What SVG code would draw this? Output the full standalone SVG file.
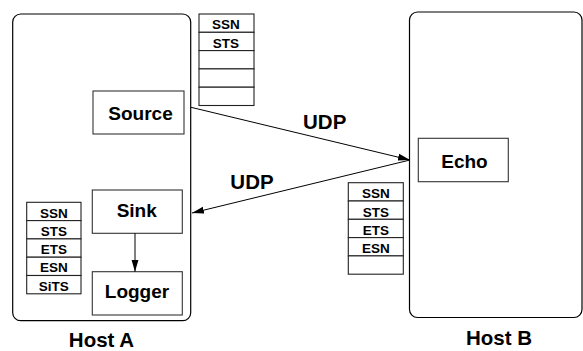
<svg xmlns="http://www.w3.org/2000/svg" width="583" height="351" viewBox="0 0 583 351">
<defs>
<style>
.host{fill:none;stroke:#000;stroke-width:1.2}
.box{fill:#fff;stroke:#333;stroke-width:1.1}
.cell{fill:#fff;stroke:#222;stroke-width:1.1}
.lbl{font-family:"Liberation Sans",Arial,sans-serif;font-weight:bold;font-size:19px;text-anchor:middle;fill:#000}
.big{font-family:"Liberation Sans",Arial,sans-serif;font-weight:bold;font-size:20.5px;text-anchor:middle;fill:#000}
.sm{font-family:"Liberation Sans",Arial,sans-serif;font-weight:bold;font-size:13.5px;text-anchor:middle;fill:#000}
.conn{fill:none;stroke:#000;stroke-width:1}
</style>
<marker id="ah" viewBox="0 0 12 8" refX="12" refY="4" markerWidth="12" markerHeight="8" markerUnits="userSpaceOnUse" orient="auto">
<path d="M0,0.5 L12,4 L0,7.5 z" fill="#000"/>
</marker>
</defs>
<g id="hostA">
<rect class="host" x="12.7" y="14" width="178" height="306.7" rx="8"/>
<text class="big" x="101.5" y="347">Host A</text>
</g>
<g id="hostB">
<rect class="host" x="409.5" y="12" width="172.5" height="305.5" rx="8"/>
<text class="big" x="499" y="345">Host B</text>
</g>
<g id="source">
<rect class="box" x="93" y="91" width="91" height="43"/>
<text class="lbl" x="140.5" y="120">Source</text>
</g>
<g id="echo">
<rect class="box" x="418.3" y="138.3" width="90" height="43.4"/>
<text class="lbl" x="464.5" y="168">Echo</text>
</g>
<g id="sink">
<rect class="box" x="92.3" y="190" width="90" height="43.3"/>
<text class="lbl" x="136.7" y="217.3">Sink</text>
</g>
<g id="logger">
<rect class="box" x="92.3" y="271.7" width="90" height="43.3"/>
<text class="lbl" x="137" y="298">Logger</text>
</g>
<g id="stackTop">
<rect class="cell" x="199" y="14" width="55" height="18.3"/>
<rect class="cell" x="199" y="32.3" width="55" height="18.3"/>
<rect class="cell" x="199" y="50.6" width="55" height="18.3"/>
<rect class="cell" x="199" y="68.9" width="55" height="18.3"/>
<rect class="cell" x="199" y="87.2" width="55" height="18.3"/>
<text class="sm" x="226" y="29">SSN</text>
<text class="sm" x="226" y="47.5">STS</text>
</g>
<g id="stackLeft">
<rect class="cell" x="26.7" y="202.3" width="54.3" height="18.3"/>
<rect class="cell" x="26.7" y="220.6" width="54.3" height="18.3"/>
<rect class="cell" x="26.7" y="238.9" width="54.3" height="18.3"/>
<rect class="cell" x="26.7" y="257.2" width="54.3" height="18.3"/>
<rect class="cell" x="26.7" y="275.5" width="54.3" height="18.3"/>
<text class="sm" x="53.8" y="217.5">SSN</text>
<text class="sm" x="53.8" y="235.8">STS</text>
<text class="sm" x="53.8" y="254">ETS</text>
<text class="sm" x="53.8" y="272.4">ESN</text>
<text class="sm" x="53.8" y="290.7">SiTS</text>
</g>
<g id="stackRight">
<rect class="cell" x="348.3" y="182.7" width="55" height="18.3"/>
<rect class="cell" x="348.3" y="201" width="55" height="18.3"/>
<rect class="cell" x="348.3" y="219.3" width="55" height="18.3"/>
<rect class="cell" x="348.3" y="237.6" width="55" height="18.3"/>
<rect class="cell" x="348.3" y="255.9" width="55" height="18.3"/>
<text class="sm" x="375.8" y="198.2">SSN</text>
<text class="sm" x="375.8" y="216.5">STS</text>
<text class="sm" x="375.8" y="234.8">ETS</text>
<text class="sm" x="375.8" y="253.1">ESN</text>
</g>
<g id="connectors">
<line class="conn" x1="191" y1="107.3" x2="410" y2="160" marker-end="url(#ah)"/>
<line class="conn" x1="410" y1="160" x2="192" y2="213" marker-end="url(#ah)"/>
<line class="conn" x1="135" y1="233.3" x2="135" y2="271.7" marker-end="url(#ah)"/>
<text class="big" x="324.7" y="129.3">UDP</text>
<text class="big" x="252" y="189.3">UDP</text>
</g>
</svg>
